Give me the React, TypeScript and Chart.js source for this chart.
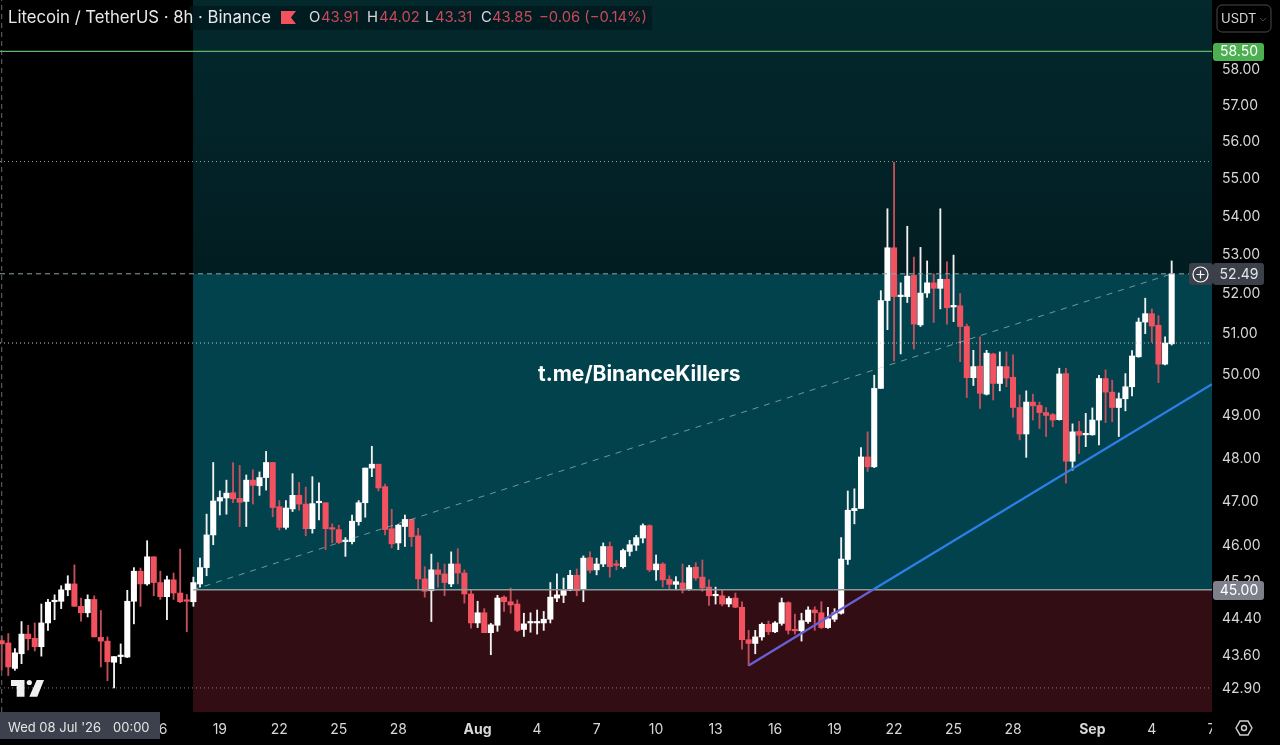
import React, { useEffect, useRef } from "react";
import { Chart, registerables } from "chart.js";

Chart.register(...registerables);

const opens = [
  43.90,43.85,43.31,43.62,44.04,43.95,43.77,44.28,44.74,44.75,
  45.00,45.13,44.64,44.50,44.79,43.97,43.89,43.44,43.56,43.55,
  44.75,45.41,45.13,45.73,45.16,44.85,45.22,44.93,44.77,44.74,
  45.13,45.49,46.22,46.99,47.06,47.18,47.05,46.98,47.47,47.34,
  47.53,47.88,46.86,46.39,46.81,47.12,46.92,46.36,46.95,46.95,
  46.37,46.34,46.07,46.07,46.52,46.95,47.75,47.84,47.32,46.36,
  46.04,46.41,46.57,46.20,45.24,44.98,45.44,45.35,45.13,45.57,
  45.37,44.91,44.28,44.50,44.07,44.23,44.84,44.74,44.69,44.14,
  44.28,44.28,44.28,44.36,44.82,44.88,44.99,45.32,45.01,45.71,
  45.44,45.57,45.96,45.56,45.51,45.85,45.99,46.15,46.43,45.44,
  45.57,45.23,45.12,45.15,45.01,45.50,45.28,45.06,44.87,44.87,
  44.69,44.82,44.62,43.92,43.84,43.98,44.25,44.09,44.27,44.72,
  44.14,44.11,44.31,44.56,44.50,44.18,44.36,44.49,45.67,46.77,
  46.82,48.01,47.78,49.64,51.81,53.16,51.91,51.91,52.45,51.20,
  52.00,52.26,52.12,52.35,51.65,51.68,51.16,49.90,50.18,49.50,
  50.48,49.76,50.17,49.91,49.18,48.55,49.31,49.23,49.06,49.01,
  48.89,50.00,47.91,48.61,48.53,48.53,48.88,49.88,49.55,49.18,
  49.39,49.68,50.41,51.27,51.48,51.19,50.23,50.73,
];
const closes = [
  43.83,43.34,43.64,44.04,43.94,43.77,44.28,44.73,44.76,45.00,
  45.13,44.64,44.50,44.79,43.98,43.89,43.45,43.56,43.58,44.75,
  45.41,45.13,45.73,45.16,44.85,45.22,44.93,44.74,44.75,45.16,
  45.49,46.22,46.99,47.07,47.17,47.04,46.96,47.47,47.35,47.53,
  47.88,46.84,46.39,46.83,47.12,46.92,46.36,46.93,46.98,46.36,
  46.35,46.05,46.10,46.53,46.95,47.75,47.84,47.29,46.34,46.02,
  46.44,46.57,46.18,45.24,44.97,45.44,45.34,45.16,45.57,45.37,
  44.91,44.28,44.50,44.07,44.24,44.82,44.74,44.67,44.12,44.26,
  44.30,44.30,44.36,44.84,44.89,45.00,45.32,44.98,45.70,45.43,
  45.57,45.96,45.51,45.54,45.87,46.00,46.16,46.43,45.44,45.57,
  45.22,45.12,45.18,45.01,45.49,45.26,45.04,44.87,44.89,44.69,
  44.81,44.62,43.92,43.84,43.98,44.25,44.09,44.28,44.72,44.12,
  44.11,44.33,44.56,44.50,44.18,44.37,44.50,45.68,46.78,46.82,
  48.01,47.78,49.64,51.81,53.16,51.91,51.93,52.43,51.22,52.00,
  52.26,52.12,52.35,51.63,51.68,51.16,49.90,50.17,49.52,50.50,
  49.76,50.17,49.89,49.18,48.55,49.31,49.22,49.06,48.99,48.88,
  49.99,47.91,48.60,48.52,48.55,48.88,49.88,49.55,49.18,49.39,
  49.68,50.43,51.27,51.48,51.17,50.23,50.75,52.49,
];
const highs = [
  44.00,44.05,43.73,44.31,44.23,44.28,44.69,44.79,44.89,45.09,
  45.31,45.55,44.82,44.89,44.87,44.55,43.98,43.56,43.83,44.99,
  45.49,45.48,46.09,45.73,45.41,45.30,45.37,45.90,44.90,45.28,
  45.70,46.69,47.88,47.22,47.47,47.88,47.81,47.59,47.71,47.66,
  48.14,47.88,47.00,47.00,47.62,47.42,47.31,47.55,47.41,46.95,
  46.47,46.44,46.16,46.67,47.00,47.75,48.26,47.84,47.38,46.80,
  46.46,46.67,46.57,46.37,45.51,45.79,45.60,45.57,45.84,45.91,
  45.44,45.00,44.75,44.59,44.27,44.88,44.87,45.04,44.78,44.49,
  44.50,44.56,44.53,45.16,45.35,45.26,45.43,45.46,45.75,45.84,
  45.70,46.04,46.06,45.65,45.90,46.10,46.21,46.47,46.45,45.77,
  45.60,45.31,45.29,45.57,45.54,45.60,45.66,45.22,45.06,45.01,
  44.85,44.93,44.74,44.12,44.12,44.28,44.32,44.31,44.82,44.74,
  44.47,44.49,44.63,44.63,44.74,44.62,44.59,46.16,47.22,47.27,
  48.23,48.60,49.96,52.06,54.18,55.42,52.26,53.72,52.92,53.17,
  52.82,52.49,54.18,52.80,52.97,51.99,51.22,50.57,50.90,50.57,
  50.50,50.53,50.53,50.46,49.48,49.58,49.50,49.31,49.18,49.04,
  50.13,50.13,48.79,48.85,49.04,49.17,49.96,50.09,49.84,49.53,
  50.00,50.56,51.37,51.87,51.60,51.43,50.90,52.82,
];
const lows = [
  43.27,43.16,43.27,43.41,43.70,43.68,43.57,44.12,44.35,44.59,
  44.87,44.64,44.32,44.41,43.98,43.34,43.05,42.90,43.41,43.54,
  44.26,44.64,45.10,44.87,44.79,44.35,44.79,44.72,44.09,44.64,
  45.06,45.31,46.00,46.67,46.69,46.95,46.41,46.41,46.92,47.12,
  47.24,46.63,46.33,46.35,46.75,46.78,46.20,46.26,46.56,45.89,
  46.04,46.02,45.74,46.02,46.44,46.62,47.55,47.22,46.22,45.93,
  45.89,45.96,45.96,45.00,44.84,44.31,45.06,44.87,45.07,45.13,
  44.71,44.17,44.18,44.07,43.60,44.10,44.53,44.49,44.09,43.99,
  44.08,44.04,44.12,44.28,44.74,44.72,44.98,44.87,44.74,45.37,
  45.33,45.51,45.28,45.44,45.48,45.75,45.87,46.04,45.40,45.21,
  45.06,45.01,45.00,44.93,44.99,45.21,44.97,44.66,44.69,44.65,
  44.63,44.61,43.72,43.37,43.62,43.91,44.03,44.07,44.23,44.04,
  44.04,43.89,44.27,44.12,44.16,44.16,44.31,44.47,45.56,46.47,
  46.82,47.67,47.76,49.64,51.08,50.31,50.48,51.76,50.60,51.16,
  51.89,51.26,51.60,51.22,51.28,50.29,49.42,49.71,49.16,49.48,
  49.36,49.58,49.68,48.95,48.41,48.00,48.88,48.68,48.49,48.72,
  48.88,47.40,47.70,48.09,48.25,48.52,48.29,48.82,48.84,48.49,
  49.10,49.46,50.40,50.98,50.77,49.78,50.21,50.70,
];

const priceTicks = [42.9, 43.6, 44.4, 45.2, 46, 47, 48, 49, 50, 51, 52, 53, 54, 55, 56, 57, 58];
const timeTickIndex = [24, 33, 42, 51, 60, 72, 81, 90, 99, 108, 117, 126, 135, 144, 153, 165, 174, 183];
const timeTickLabels = ["16", "19", "22", "25", "28", "Aug", "4", "7", "10", "13", "16", "19", "22", "25", "28", "Sep", "4", "7"];
const boldTimeLabels = ["Aug", "Sep"];

const xMin = -0.257;
const xMax = 183.1;
const yMin = 42.4;
const yMax = 59.98;

const targetLevel = 58.5;
const upperDotted = 55.44;
const lastPrice = 52.49;
const midDotted = 50.75;
const entryLevel = 45;
const lowerDotted = 42.9;
const zoneStartIndex = 28.95;

const purpleTrend = [{ x: 113, y: 43.37 }, { x: 131.8, y: 45 }];
const blueTrend = [{ x: 131.8, y: 45 }, { x: 183.1, y: 49.74 }];
const diagonal = [{ x: 28.95, y: 45 }, { x: 177, y: 52.49 }];

const WHITE = "#ffffff";
const RED = "#f2515f";
const WICK_RED = "#c44f5c";
const WICK_WHITE = "#f2f2f2";

const FONT = "Inter, 'Noto Sans', sans-serif";

const hline = (y: number, from = xMin) => [{ x: from, y }, { x: xMax, y }];
const line = (data: any[], color: string, width: number, dash: number[] = []) => ({
  type: "line" as const,
  data,
  borderColor: color,
  borderWidth: width,
  borderDash: dash,
  pointRadius: 0,
  tension: 0,
  order: 0,
});

function roundRect(ctx: CanvasRenderingContext2D, x: number, y: number, w: number, h: number, r: number) {
  ctx.beginPath();
  ctx.roundRect(x, y, w, h, r);
}

const backdrop = {
  id: "backdrop",
  beforeDatasetsDraw(chart: any) {
    const { ctx, chartArea: a, scales } = chart;
    const x0 = scales.x.getPixelForValue(zoneStartIndex);
    const yLast = scales.y.getPixelForValue(lastPrice);
    const yEntry = scales.y.getPixelForValue(entryLevel);
    ctx.save();
    const g = ctx.createLinearGradient(0, a.top, 0, yLast);
    g.addColorStop(0, "#03292d");
    g.addColorStop(1, "#021d22");
    ctx.fillStyle = g;
    ctx.fillRect(x0, a.top, a.right - x0, yLast - a.top);
    ctx.fillStyle = "#02424d";
    ctx.fillRect(x0, yLast, a.right - x0, yEntry - yLast);
    ctx.fillStyle = "#320d13";
    ctx.fillRect(x0, yEntry, a.right - x0, a.bottom - yEntry);
    ctx.fillStyle = "#000000";
    ctx.fillRect(a.right, 0, chart.width - a.right, chart.height);
    ctx.restore();
  },
};

const overlay = {
  id: "overlay",
  afterDraw(chart: any) {
    const { ctx, scales } = chart;
    ctx.save();
    ctx.textBaseline = "middle";

    // header
    ctx.fillStyle = "rgba(2,24,28,0.75)";
    ctx.fillRect(190, 6, 462, 24);
    ctx.font = `400 16.7px ${FONT}`;
    ctx.fillStyle = "#e8e8e8";
    ctx.textAlign = "left";
    ctx.fillText("Litecoin / TetherUS · 8h · Binance", 8, 18);
    ctx.fillStyle = "#f2515f";
    ctx.beginPath();
    ctx.moveTo(281, 11);
    ctx.lineTo(296, 11);
    ctx.lineTo(291, 17.5);
    ctx.lineTo(296, 24);
    ctx.lineTo(281, 24);
    ctx.closePath();
    ctx.fill();
    ctx.font = `400 14.8px ${FONT}`;
    const seg: [string, number, string][] = [
      ["O", 309, "#d8d8d8"], ["43.91", 321, "#c9495a"],
      ["H", 367, "#d8d8d8"], ["44.02", 379, "#c9495a"],
      ["L", 425, "#d8d8d8"], ["43.31", 435, "#c9495a"],
      ["C", 481, "#d8d8d8"], ["43.85", 492, "#c9495a"],
      ["−0.06 (−0.14%)", 539, "#c9495a"],
    ];
    seg.forEach(([t, x, c]) => {
      ctx.fillStyle = c;
      ctx.fillText(t, x, 18);
    });

    // watermark
    ctx.font = `700 21px ${FONT}`;
    ctx.fillStyle = "#ffffff";
    ctx.fillText("t.me/BinanceKillers", 538, 374.5);

    // currency button
    ctx.strokeStyle = "#4a4a4a";
    ctx.lineWidth = 1;
    roundRect(ctx, 1217, 5, 54, 27, 5);
    ctx.stroke();
    ctx.font = `400 13px ${FONT}`;
    ctx.fillStyle = "#d6d6d6";
    ctx.fillText("USDT", 1221, 19);
    ctx.beginPath();
    ctx.moveTo(1260, 18);
    ctx.lineTo(1263, 21);
    ctx.lineTo(1266, 18);
    ctx.stroke();

    // price tags
    const tag = (val: number, top: number, h: number, bg: string, fg: string) => {
      const y = scales.y.getPixelForValue(val);
      ctx.fillStyle = bg;
      roundRect(ctx, 1213, top, 51, h, 3);
      ctx.fill();
      ctx.fillStyle = fg;
      ctx.textAlign = "center";
      ctx.font = `400 14px ${FONT}`;
      ctx.fillText(val.toFixed(2), 1239, y + 1);
      ctx.textAlign = "left";
    };
    tag(targetLevel, 43, 18, "#4caf50", "#ffffff");
    tag(lastPrice, 263, 22, "#3c404b", "#e6e6e6");
    tag(entryLevel, 581, 19, "#7d808b", "#ffffff");

    // add button
    ctx.fillStyle = "#3c404b";
    roundRect(ctx, 1189, 263, 24, 22, 3);
    ctx.fill();
    ctx.strokeStyle = "#ffffff";
    ctx.lineWidth = 1.2;
    ctx.beginPath();
    ctx.arc(1200.5, 274.5, 7.5, 0, Math.PI * 2);
    ctx.moveTo(1196.5, 274.5);
    ctx.lineTo(1204.5, 274.5);
    ctx.moveTo(1200.5, 270.5);
    ctx.lineTo(1200.5, 278.5);
    ctx.stroke();

    // logo
    ctx.fillStyle = "#f0f0f0";
    ctx.beginPath();
    ctx.moveTo(11, 680);
    ctx.lineTo(24.5, 680);
    ctx.lineTo(24.5, 696.7);
    ctx.lineTo(16.7, 696.7);
    ctx.lineTo(16.7, 686);
    ctx.lineTo(11, 686);
    ctx.closePath();
    ctx.moveTo(36.7, 680);
    ctx.lineTo(44, 680);
    ctx.lineTo(37.3, 696.7);
    ctx.lineTo(29.3, 696.7);
    ctx.closePath();
    ctx.fill();
    ctx.beginPath();
    ctx.arc(29.3, 682.5, 2.6, 0, Math.PI * 2);
    ctx.fill();

    // crosshair time label
    ctx.fillStyle = "#3c414d";
    ctx.fillRect(0, 712, 160, 27);
    ctx.fillStyle = "#e6e6e6";
    ctx.font = `400 13px ${FONT}`;
    ctx.fillText("Wed 08 Jul '26", 8, 728);
    ctx.fillText("00:00", 113, 728);

    // settings icon
    ctx.strokeStyle = "#d0d0d0";
    ctx.lineWidth = 1.4;
    ctx.beginPath();
    for (let k = 0; k < 6; k++) {
      const a = Math.PI * (k / 3);
      const px = 1244 + 8 * Math.cos(a);
      const py = 728 + 8 * Math.sin(a);
      if (k === 0) ctx.moveTo(px, py);
      else ctx.lineTo(px, py);
    }
    ctx.closePath();
    ctx.stroke();
    ctx.beginPath();
    ctx.arc(1244, 728, 2.5, 0, Math.PI * 2);
    ctx.stroke();
    ctx.restore();
  },
};

export default function App() {
  const ref = useRef<HTMLCanvasElement>(null);

  useEffect(() => {
    document.body.style.margin = "0";
    document.body.style.background = "#000";
    const wicks = opens.map((_, i) => ({ x: i, y: [lows[i], highs[i]] }));
    const bodies = opens.map((o, i) => ({ x: i, y: [o, closes[i]] }));
    const chart = new Chart(ref.current as HTMLCanvasElement, {
      type: "bar",
      data: {
        datasets: [
          line(diagonal, "rgba(190,205,205,0.6)", 1, [6, 6]),
          line(purpleTrend, "#6a5fd6", 2.3),
          line(blueTrend, "#2c7fe6", 2.3),
          line(hline(targetLevel), "#5fb866", 1.2),
          line(hline(upperDotted), "#9aa5a5", 1, [1, 3]),
          line(hline(lastPrice), "#8fa5a8", 1, [5, 4]),
          line(hline(midDotted), "#c2cccc", 1, [1, 3]),
          line(hline(entryLevel, zoneStartIndex), "#8f9a9a", 1.5),
          line(hline(lowerDotted), "#8a7f80", 1, [1, 3]),
          line([{ x: 0, y: yMin }, { x: 0, y: yMax }], "#666a6e", 1, [5, 4]),
          {
            data: bodies,
            backgroundColor: opens.map((o, i) => (closes[i] >= o ? WHITE : RED)),
            barThickness: 5.4,
            minBarLength: 1.5,
            grouped: false,
            borderWidth: 0,
            order: 1,
          },
          {
            data: wicks,
            backgroundColor: opens.map((o, i) => (closes[i] >= o ? WICK_WHITE : WICK_RED)),
            barThickness: 1.2,
            grouped: false,
            borderWidth: 0,
            order: 2,
          },
        ] as any,
      },
      options: {
        animation: false,
        responsive: false,
        devicePixelRatio: 1,
        layout: { padding: 0 },
        plugins: { legend: { display: false }, tooltip: { enabled: false } },
        events: [],
        scales: {
          x: {
            type: "linear",
            offset: false,
            min: xMin,
            max: xMax,
            border: { display: false },
            grid: { display: false, drawTicks: false },
            afterBuildTicks: (s: any) => {
              s.ticks = timeTickIndex.map((value) => ({ value }));
            },
            afterFit: (s: any) => {
              s.height = 33;
              s.paddingLeft = 0;
              s.paddingRight = 0;
            },
            ticks: {
              autoSkip: false,
              maxRotation: 0,
              padding: 9,
              color: "#d8d8d8",
              font: (c: any) => {
                const label = timeTickLabels[timeTickIndex.indexOf(c.tick?.value)];
                return { family: FONT, size: 14, weight: boldTimeLabels.includes(label) ? "700" : "400" };
              },
              callback: (v: any) => timeTickLabels[timeTickIndex.indexOf(v)] ?? "",
            },
          },
          y: {
            type: "logarithmic",
            position: "right",
            min: yMin,
            max: yMax,
            border: { display: false },
            grid: { display: false, drawTicks: false },
            afterBuildTicks: (s: any) => {
              s.ticks = priceTicks.map((value) => ({ value }));
            },
            afterFit: (s: any) => {
              s.width = 68;
              s.paddingTop = 0;
              s.paddingBottom = 0;
            },
            ticks: {
              z: 1,
              autoSkip: false,
              padding: 10,
              labelOffset: 1,
              color: "#d8d8d8",
              font: { family: FONT, size: 14 },
              callback: (v: any) => Number(v).toFixed(2),
            },
          },
        },
      } as any,
      plugins: [backdrop, overlay],
    });
    return () => chart.destroy();
  }, []);

  return (
    <div style={{ position: "fixed", left: 0, top: 0, width: 1280, height: 745, background: "#000" }}>
      <canvas ref={ref} width={1280} height={745} style={{ display: "block" }} />
    </div>
  );
}
